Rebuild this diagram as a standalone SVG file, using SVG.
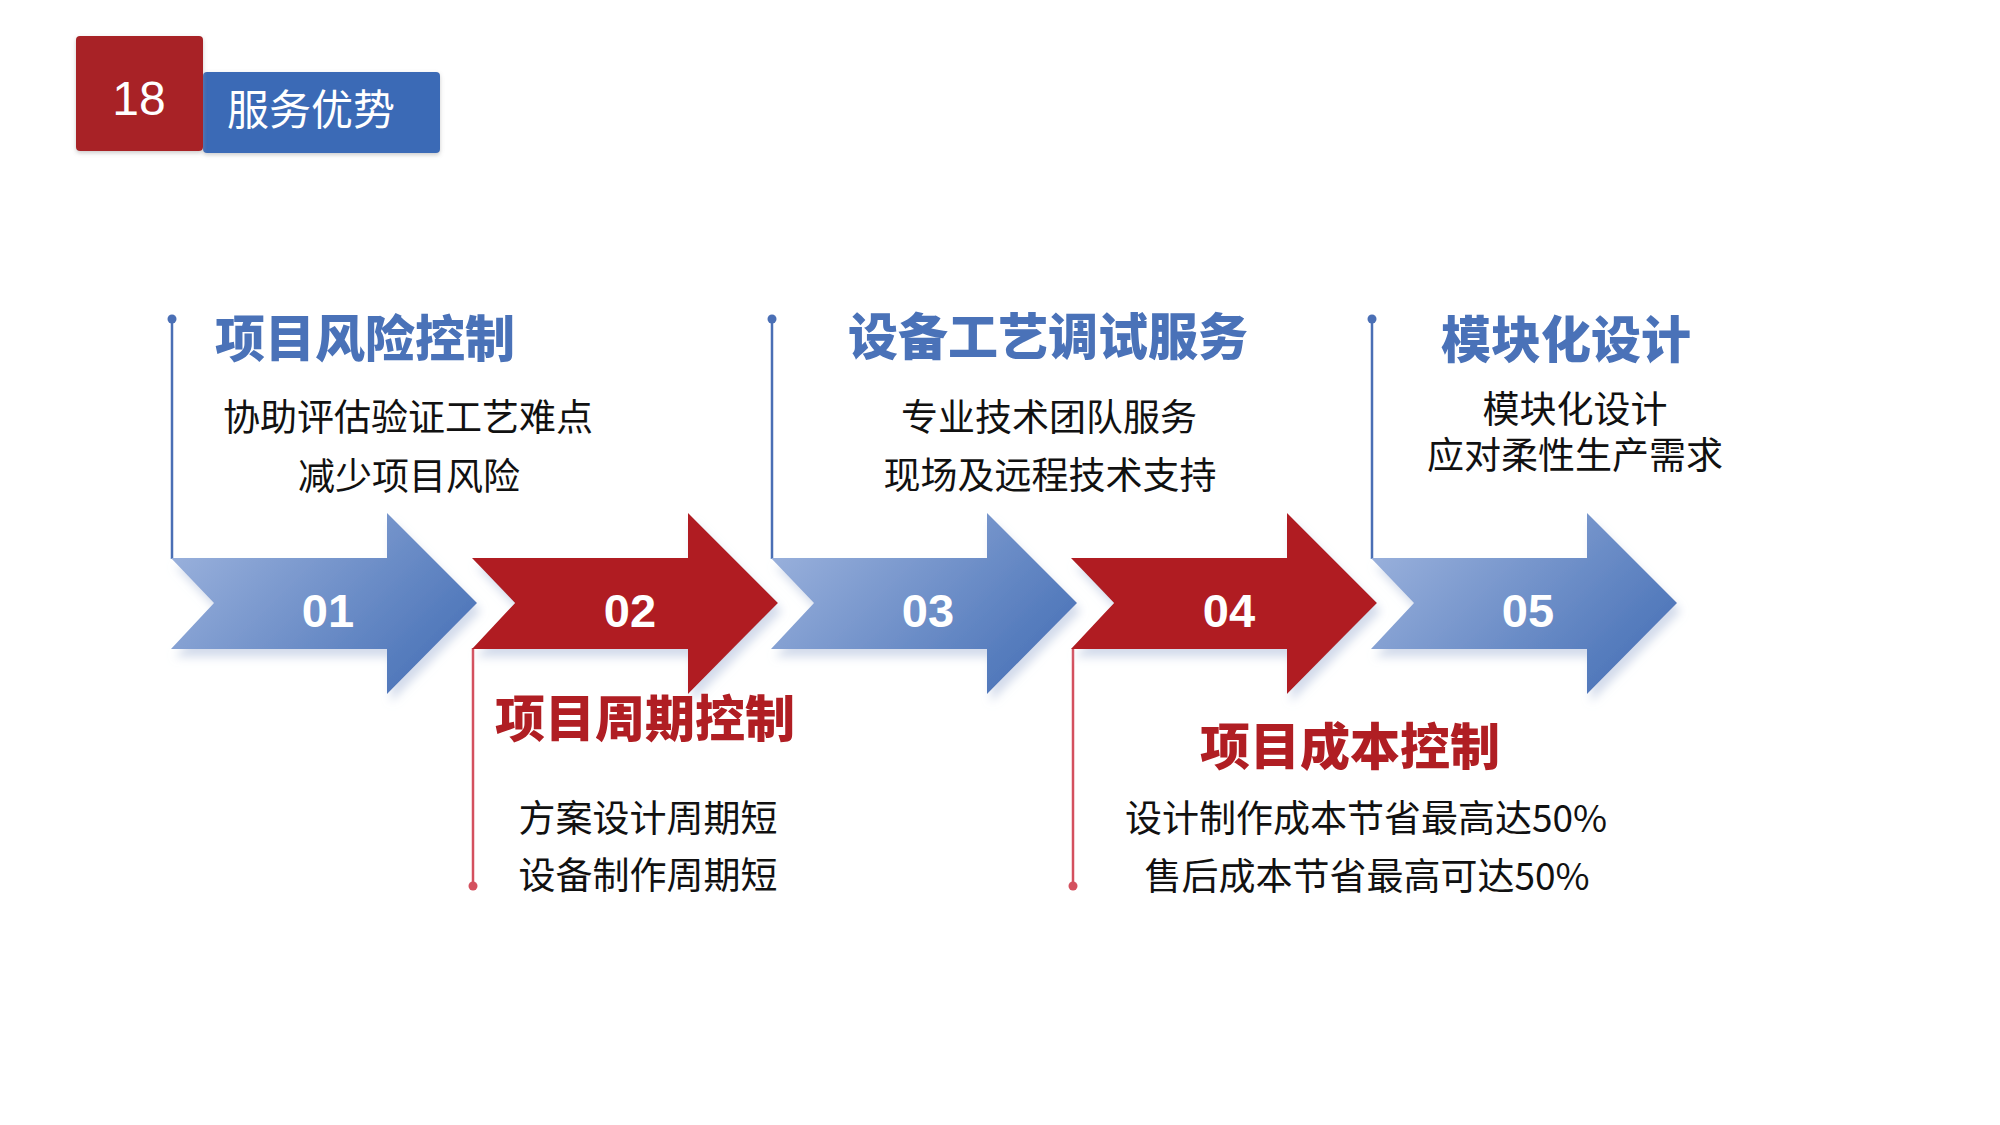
<svg xmlns="http://www.w3.org/2000/svg" width="2000" height="1125" viewBox="0 0 2000 1125">
<defs>
<linearGradient id="gBlue" x1="0" y1="0.2" x2="1" y2="0.8">
<stop offset="0" stop-color="#9ab1dc"/>
<stop offset="1" stop-color="#4670b6"/>
</linearGradient>
<filter id="sh" x="-10%" y="-10%" width="130%" height="140%">
<feGaussianBlur in="SourceAlpha" stdDeviation="5"/>
<feOffset dx="4" dy="8" result="b"/>
<feFlood flood-color="#c8d2e6" flood-opacity="0.8"/>
<feComposite in2="b" operator="in"/>
<feMerge><feMergeNode/><feMergeNode in="SourceGraphic"/></feMerge>
</filter>
<filter id="hs" x="-10%" y="-10%" width="120%" height="130%">
<feGaussianBlur in="SourceAlpha" stdDeviation="2"/>
<feOffset dx="0" dy="2" result="b"/>
<feFlood flood-color="#999" flood-opacity="0.5"/>
<feComposite in2="b" operator="in"/>
<feMerge><feMergeNode/><feMergeNode in="SourceGraphic"/></feMerge>
</filter>
<path id="arr" d="M0,558 H216 V513 L306,603 L216,694 V649 H0 L43,603 Z"/>
</defs>
<style>
.num{font-family:"Liberation Sans",Arial,sans-serif;font-weight:bold;font-size:47px;fill:#fff;text-anchor:middle}
.tb{font-family:"Noto Sans CJK SC",sans-serif;font-weight:900;font-size:50px;fill:#4a72b8;text-anchor:middle}
.tr{font-family:"Noto Sans CJK SC",sans-serif;font-weight:900;font-size:50px;fill:#b01e23;text-anchor:middle}
.bd{font-family:"Noto Sans CJK SC",sans-serif;font-size:37px;fill:#111;text-anchor:middle}
.lb{stroke:#4a6fb5;stroke-width:2.5;fill:none}
.lr{stroke:#d4505e;stroke-width:2.5;fill:none}
</style>
<rect width="2000" height="1125" fill="#fff"/>

<g id="header">
<rect x="203" y="72" width="237" height="81" rx="4" fill="#3a6bb6" filter="url(#hs)"/>
<rect x="76" y="36" width="127" height="115" rx="4" fill="#a82226" filter="url(#hs)"/>
<text x="139" y="115" font-family="Liberation Sans,Arial,sans-serif" font-size="48" fill="#fff" text-anchor="middle">18</text>
<text x="311" y="125" font-family="Noto Sans CJK SC,sans-serif" font-size="42" fill="#fff" text-anchor="middle">服务优势</text>
</g>

<g id="connectors">
<polyline class="lb" points="172,319 172,559"/>
<circle cx="172" cy="319" r="4.5" fill="#4a6fb5"/>
<polyline class="lb" points="772,319 772,559"/>
<circle cx="772" cy="319" r="4.5" fill="#4a6fb5"/>
<polyline class="lb" points="1372,319 1372,559"/>
<circle cx="1372" cy="319" r="4.5" fill="#4a6fb5"/>
<polyline class="lr" points="473,648 473,886"/>
<circle cx="473" cy="886" r="4.5" fill="#d4505e"/>
<polyline class="lr" points="1073,648 1073,886"/>
<circle cx="1073" cy="886" r="4.5" fill="#d4505e"/>
</g>

<g id="arrow01">
<use href="#arr" x="171" fill="url(#gBlue)" filter="url(#sh)"/>
<text class="num" x="328" y="627">01</text>
</g>
<g id="arrow02">
<use href="#arr" x="472" fill="#b01e23" filter="url(#sh)"/>
<text class="num" x="630" y="627">02</text>
</g>
<g id="arrow03">
<use href="#arr" x="771" fill="url(#gBlue)" filter="url(#sh)"/>
<text class="num" x="928" y="627">03</text>
</g>
<g id="arrow04">
<use href="#arr" x="1071" fill="#b01e23" filter="url(#sh)"/>
<text class="num" x="1229" y="627">04</text>
</g>
<g id="arrow05">
<use href="#arr" x="1371" fill="url(#gBlue)" filter="url(#sh)"/>
<text class="num" x="1528" y="627">05</text>
</g>

<g id="item1">
<text class="tb" x="365" y="357">项目风险控制</text>
<text class="bd" x="408" y="431">协助评估验证工艺难点</text>
<text class="bd" x="409" y="490">减少项目风险</text>
</g>
<g id="item2">
<text class="tr" x="645" y="737">项目周期控制</text>
<text class="bd" x="648" y="832">方案设计周期短</text>
<text class="bd" x="648" y="889">设备制作周期短</text>
</g>
<g id="item3">
<text class="tb" x="1048" y="355">设备工艺调试服务</text>
<text class="bd" x="1049" y="431">专业技术团队服务</text>
<text class="bd" x="1050" y="489">现场及远程技术支持</text>
</g>
<g id="item4">
<text class="tr" x="1350" y="765">项目成本控制</text>
<text class="bd" x="1366" y="832">设计制作成本节省最高达50%</text>
<text class="bd" x="1367" y="890">售后成本节省最高可达50%</text>
</g>
<g id="item5">
<text class="tb" x="1566" y="358">模块化设计</text>
<text class="bd" x="1575" y="423">模块化设计</text>
<text class="bd" x="1575" y="469">应对柔性生产需求</text>
</g>
</svg>
